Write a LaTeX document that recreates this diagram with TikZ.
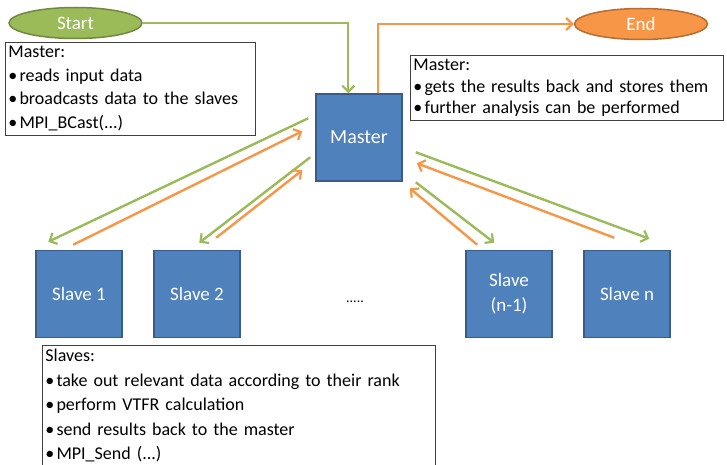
\documentclass[tikz,border=0pt]{standalone}
\usepackage{fontspec}
\setmainfont{Carlito}
\usetikzlibrary{shapes,arrows.meta,positioning,calc}
\definecolor{ofgreen}{HTML}{9BBB59}
\definecolor{ofgreendark}{HTML}{71893F}
\definecolor{oforange}{HTML}{F79646}
\definecolor{oforangedark}{HTML}{B66D31}
\definecolor{ofblue}{HTML}{4F81BD}
\definecolor{ofbluedark}{HTML}{385D8A}
\newcommand{\bul}{\textbullet\hspace{0.12em}}
\tikzset{
    terminal/.style={
        ellipse,                  % óvalo para inicio y fin
        draw=#1dark,              % borde un poco más oscuro
        fill=#1,                  % relleno de color pleno
        line width=1.5pt,
        minimum width=133pt,
        minimum height=31pt,
        text=white,
        font=\fontsize{19}{21}\selectfont
    },
    procbox/.style={
        rectangle,                % caja de proceso (master / slave)
        draw=ofbluedark,
        fill=ofblue,
        line width=1.5pt,
        minimum width=86pt,
        minimum height=87pt,
        text=white,
        align=center,
        font=\fontsize{19}{25}\selectfont
    },
    notebox/.style={
        rectangle,                % cuadro de texto con comentarios
        draw=black!75,
        line width=0.8pt,
        fill=white,
        anchor=north west,
        align=left,
        inner xsep=3pt,
        inner ysep=4pt,
        font=\fontsize{18}{23.5}\selectfont
    },
    sendarrow/.style={
        draw=ofgreen,             % datos que salen del master
        line width=2.4pt,
        -{Straight Barb[length=6pt,width=12pt,line width=2.2pt]}
    },
    backarrow/.style={
        draw=oforange,            % resultados de vuelta
        line width=2.4pt,
        -{Straight Barb[length=6pt,width=12pt,line width=2.2pt]}
    }
}

\begin{document}
\begin{tikzpicture}[x=1pt,y=-1pt]
    \useasboundingbox (0,0) rectangle (727,465);

    \node[terminal=ofgreen] (start) at (75.5,23) {Start};
    \node[terminal=oforange] (finish) at (641,24) {End};

    \node[procbox,font=\fontsize{20}{25}\selectfont] (master) at (359,137.5) {Master};
    \node[procbox] (slave1) at (79,294) {Slave 1};
    \node[procbox] (slave2) at (197,294) {Slave 2};
    \node[procbox] (slavem) at (509,294) {Slave\\(n-1)};
    \node[procbox] (slaven) at (627,294) {Slave n};
    \node[font=\fontsize{14}{14}\selectfont] (dots) at (355,302) {.....};

    \node[notebox,text width=244pt] (notemaster) at (5,42) {Master:\\
        \bul reads input data\\
        \bul broadcasts data to the slaves\\
        \bul MPI\_BCast(...)};
    \node[notebox,text width=307pt,font=\fontsize{18}{21.5}\selectfont] (noteresults) at (410,55) {Master:\\
        \bul gets the results back and stores them\\
        \bul further analysis can be performed};
    \node[notebox,text width=387pt,font=\fontsize{18}{24.5}\selectfont] (noteslaves) at (42,345) {Slaves:\\
        \bul take out relevant data according to their rank\\
        \bul perform VTFR calculation\\
        \bul send results back to the master\\
        \bul MPI\_Send (...)};

    % inicio y fin
    \draw[sendarrow] (start.east) -| ($(master.north west)+(33,0)$);
    \draw[backarrow] ($(master.north west)+(63,0)$) |- (finish.west);

    % master <-> slaves
    \draw[sendarrow] ($(master.north west)+(-7,25)$) -- ($(slave1.north west)+(13,-8)$);
    \draw[backarrow] ($(slave1.north west)+(38,-5)$) -- ($(master.north west)+(-13,38)$);
    \draw[sendarrow] ($(master.north west)+(-5,64)$) -- ($(slave2.north west)+(46,-7)$);
    \draw[backarrow] ($(slave2.north west)+(63,-12)$) -- ($(master.north west)+(-13,77)$);
    \draw[sendarrow] ($(master.north east)+(13,89)$) -- ($(slavem.north west)+(29,-7)$);
    \draw[backarrow] ($(slavem.north west)+(12,-5)$) -- ($(master.north east)+(7,95)$);
    \draw[sendarrow] ($(master.north east)+(13,59)$) -- ($(slaven.north west)+(66,-11)$);
    \draw[backarrow] ($(slaven.north west)+(31,-12)$) -- ($(master.north east)+(14,70)$);
\end{tikzpicture}
\end{document}
